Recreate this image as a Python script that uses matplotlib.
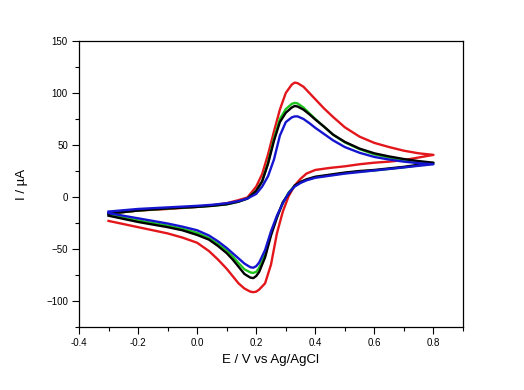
import matplotlib
matplotlib.use("Agg")
import matplotlib.pyplot as plt
from matplotlib.ticker import MultipleLocator, FixedLocator

# Potential grids (V vs Ag/AgCl) for the anodic (forward) and cathodic (reverse) sweeps
e_fwd = [-0.3, -0.2, -0.1, 0.0, 0.05, 0.1, 0.14, 0.17, 0.2, 0.22, 0.24, 0.26, 0.28, 0.3,
         0.32, 0.33, 0.34, 0.36, 0.38, 0.4, 0.43, 0.46, 0.5, 0.55, 0.6, 0.65, 0.7, 0.75, 0.8]
e_rev = [0.8, 0.75, 0.7, 0.65, 0.6, 0.55, 0.5, 0.45, 0.4, 0.37, 0.35, 0.33, 0.31, 0.29, 0.27,
         0.25, 0.23, 0.21, 0.2, 0.19, 0.18, 0.16, 0.14, 0.12, 0.1, 0.07, 0.04, 0.0, -0.05,
         -0.1, -0.15, -0.2, -0.25, -0.3]

# Currents (uA)
red_fwd = [-16, -13, -11.5, -9.5, -8, -6, -3, -0.5, 10, 22, 41, 63, 84, 100,
           108, 110, 109.5, 106, 100, 94, 85, 77, 67, 58, 52, 48, 44.5, 42, 40.5]
red_rev = [40.5, 38, 35.5, 34, 33, 31.5, 29.5, 28, 26, 22.5, 17.5, 11, 1, -14, -35,
           -65, -83, -89, -91, -91.5, -91, -88, -83, -76, -69, -60, -52, -44, -39,
           -35, -32, -29, -26, -23]

green_fwd = [-16, -13, -11, -9.5, -8.5, -7, -4.5, -1.5, 6, 15, 33, 56, 75, 84.5,
             89.5, 90.5, 90, 86, 80.5, 75, 67.5, 60, 52.5, 46, 41, 38, 35.5, 34, 32.5]
green_rev = [32.5, 30.5, 28.5, 27, 25.5, 24.5, 23, 21, 19, 16.5, 14, 10.5, 4.5, -6, -19,
             -35, -55, -68, -72, -73, -72.5, -69.5, -63.5, -57, -51.5, -45, -39.5, -34.5, -30.5,
             -27.5, -25, -22.5, -20, -17]

black_fwd = [-16, -13, -11, -9.5, -8.5, -7, -4.5, -1.5, 6, 15, 32, 54, 72, 81,
             86, 87.5, 87, 84, 79.5, 74.5, 67.5, 60, 53, 46.5, 42, 39, 36.5, 34.5, 33]
black_rev = [33, 31, 29, 27.5, 26, 25, 23.5, 21.5, 19.5, 17, 14.5, 11, 3, -5, -20,
             -37, -58, -72, -76, -78, -77.5, -74, -67, -60, -54, -47, -41, -36.5, -32,
             -29, -26.5, -24, -21, -18]

blue_fwd = [-14, -11.5, -10, -8.5, -7.5, -6, -4, -1.5, 3, 10, 20, 36, 59, 72,
            76.5, 77.5, 77.5, 75, 71, 66.5, 60.5, 54.5, 48, 42.5, 38.5, 36, 34, 32.5, 31.5]
blue_rev = [31.5, 30, 28.5, 27, 25.5, 24, 22.5, 20.5, 18.5, 16, 13.5, 10, 4, -6, -18,
            -33, -51, -63, -66.5, -68, -67.5, -64, -59, -54, -49, -42.5, -37, -32, -28.5,
            -25.5, -23, -20.5, -18, -15.5]

plt.rcParams['font.family'] = ['Liberation Sans', 'DejaVu Sans']

fig = plt.figure(figsize=(5.24, 3.9), dpi=100)
ax = fig.add_axes([79 / 524, 1 - 327 / 390, 384 / 524, 286 / 390])

curves = [(red_fwd, red_rev, '#e3161b'),
          (green_fwd, green_rev, '#1fc41f'),
          (black_fwd, black_rev, 'black'),
          (blue_fwd, blue_rev, '#1515cf')]
for fwd, rev, col in curves:
    ax.plot(e_fwd + e_rev, fwd + rev, color=col, lw=1.7)

ax.set_xlim(-0.4, 0.9)
ax.set_ylim(-125, 150)
ax.xaxis.set_major_locator(FixedLocator([-0.4, -0.2, 0.0, 0.2, 0.4, 0.6, 0.8]))
ax.xaxis.set_minor_locator(MultipleLocator(0.1))
ax.yaxis.set_major_locator(MultipleLocator(50))
ax.yaxis.set_minor_locator(MultipleLocator(25))
ax.set_xticklabels(['-0.4', '-0.2', '0.0', '0.2', '0.4', '0.6', '0.8'])

ax.tick_params(which='major', direction='out', length=5, width=0.8, labelsize=7, pad=3)
ax.tick_params(which='minor', direction='out', length=3, width=0.8)
ax.tick_params(top=False, right=False, which='both')
for s in ax.spines.values():
    s.set_linewidth(0.9)

ax.set_xlabel('E / V vs Ag/AgCl', fontsize=9.5, labelpad=4)
ax.set_ylabel('I / \u00b5A', fontsize=9.5, labelpad=13)

fig.savefig('out.png', dpi=100)
